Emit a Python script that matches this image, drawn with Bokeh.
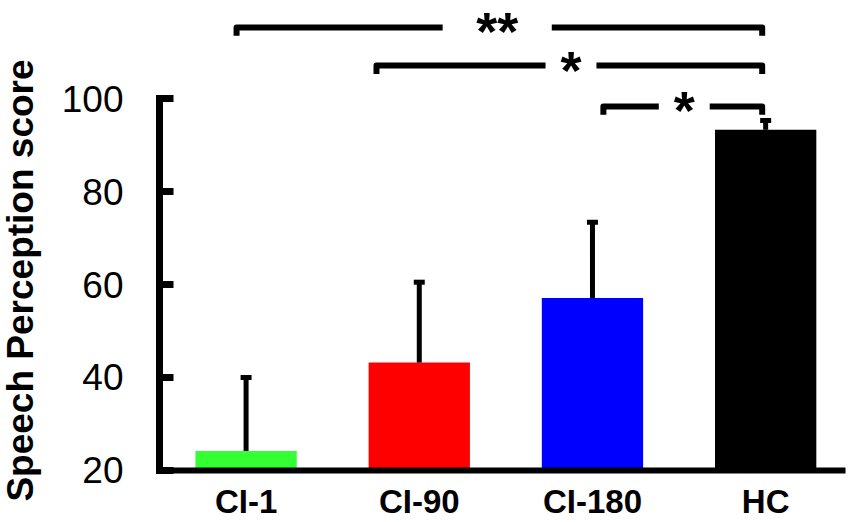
from math import pi
from bokeh.plotting import figure
from bokeh.models import Range1d, FixedTicker, Whisker, TeeHead, ColumnDataSource, Label
from bokeh.embed import file_html
from bokeh.resources import INLINE
from bokeh.core.properties import value

# ---- data ----
groups = ["CI-1", "CI-90", "CI-180", "HC"]
means = [24.2, 43.2, 57.1, 93.3]
err_top = [40.0, 60.5, 73.4, 95.3]
colors = ["#33FF33", "#FF0000", "#0000FF", "#000000"]
y_ticks = [20, 40, 60, 80, 100]
y_label = "Speech Perception score"

# significance brackets (x in category units, level in score units)
br_left = [0.445, 1.253, 2.563]
br_right = [3.48, 3.48, 3.48]
br_level = [115.3, 107.1, 98.3]
br_text = ["**", "*", "*"]
br_mid = [1.95, 2.376, 3.03]
br_halfgap = [0.315, 0.147, 0.147]
br_drop = 1.8

xpos = [i + 0.5 for i in range(len(groups))]

p = figure(width=855, height=522, output_backend="svg", toolbar_location=None,
           x_range=Range1d(-0.918, 3.961), y_range=Range1d(8.8, 121.1),
           min_border_left=0, min_border_right=10, min_border_top=0,
           min_border_bottom=0)
p.outline_line_color = None
p.xgrid.visible = False
p.ygrid.visible = False
p.background_fill_color = "white"
p.border_fill_color = "white"

src = ColumnDataSource(dict(x=xpos, top=means, up=err_top, color=colors, name=groups))
p.vbar(x="x", top="top", bottom=20, width=0.585, color="color", line_color=None, source=src)

wh = Whisker(base="x", lower="top", upper="up", source=src, dimension="height",
             line_width=5, line_color="black", lower_head=None,
             upper_head=TeeHead(size=11, line_width=5, line_color="black"),
             level="overlay")
p.add_layout(wh)

# brackets
xs, ys = [], []
for l, r, lv, m, hg in zip(br_left, br_right, br_level, br_mid, br_halfgap):
    xs.append([l, l, m - hg]); ys.append([lv - br_drop, lv, lv])
    xs.append([m + hg, r, r]); ys.append([lv, lv, lv - br_drop])
p.multi_line(xs=xs, ys=ys, line_width=6, line_color="black", line_join="round")
p.text(x=br_mid, y=br_level, text=br_text, text_align="center", text_baseline="middle",
       text_font=value("Liberation Sans"), text_font_style="bold", text_font_size="54px",
       y_offset=4, text_color="black")

# y axis (fixed at x = 0)
ya = p.yaxis[0]
ya.fixed_location = 0
ya.ticker = FixedTicker(ticks=y_ticks)
ya.bounds = (20, 100)
ya.axis_line_width = 7
ya.axis_line_cap = "square"
ya.major_tick_in = 14
ya.major_tick_out = 0
ya.major_tick_line_width = 7
ya.minor_tick_line_color = None
ya.major_label_text_font = "Liberation Sans"
ya.major_label_text_font_size = "37px"
ya.major_label_text_color = "black"
ya.major_label_standoff = 36

p.add_layout(Label(x=-0.800, y=60.86, text=y_label, angle=pi / 2,
                   text_align="center", text_baseline="middle",
                   text_font="Liberation Sans", text_font_style="bold",
                   text_font_size="37px", text_color="black"))

# x axis (fixed at y = 20)
xa = p.xaxis[0]
xa.fixed_location = 20
xa.bounds = (0, 3.961)
xa.ticker = FixedTicker(ticks=xpos)
xa.major_label_overrides = {x: g for x, g in zip(xpos, groups)}
xa.axis_line_width = 6
xa.axis_line_cap = "square"
xa.major_tick_in = 0
xa.major_tick_out = 0
xa.minor_tick_line_color = None
xa.major_label_text_font = "Liberation Sans"
xa.major_label_text_font_style = "bold"
xa.major_label_text_font_size = "33px"
xa.major_label_text_color = "black"
xa.major_label_standoff = 13

open("out.html", "w").write(file_html(p, INLINE))
